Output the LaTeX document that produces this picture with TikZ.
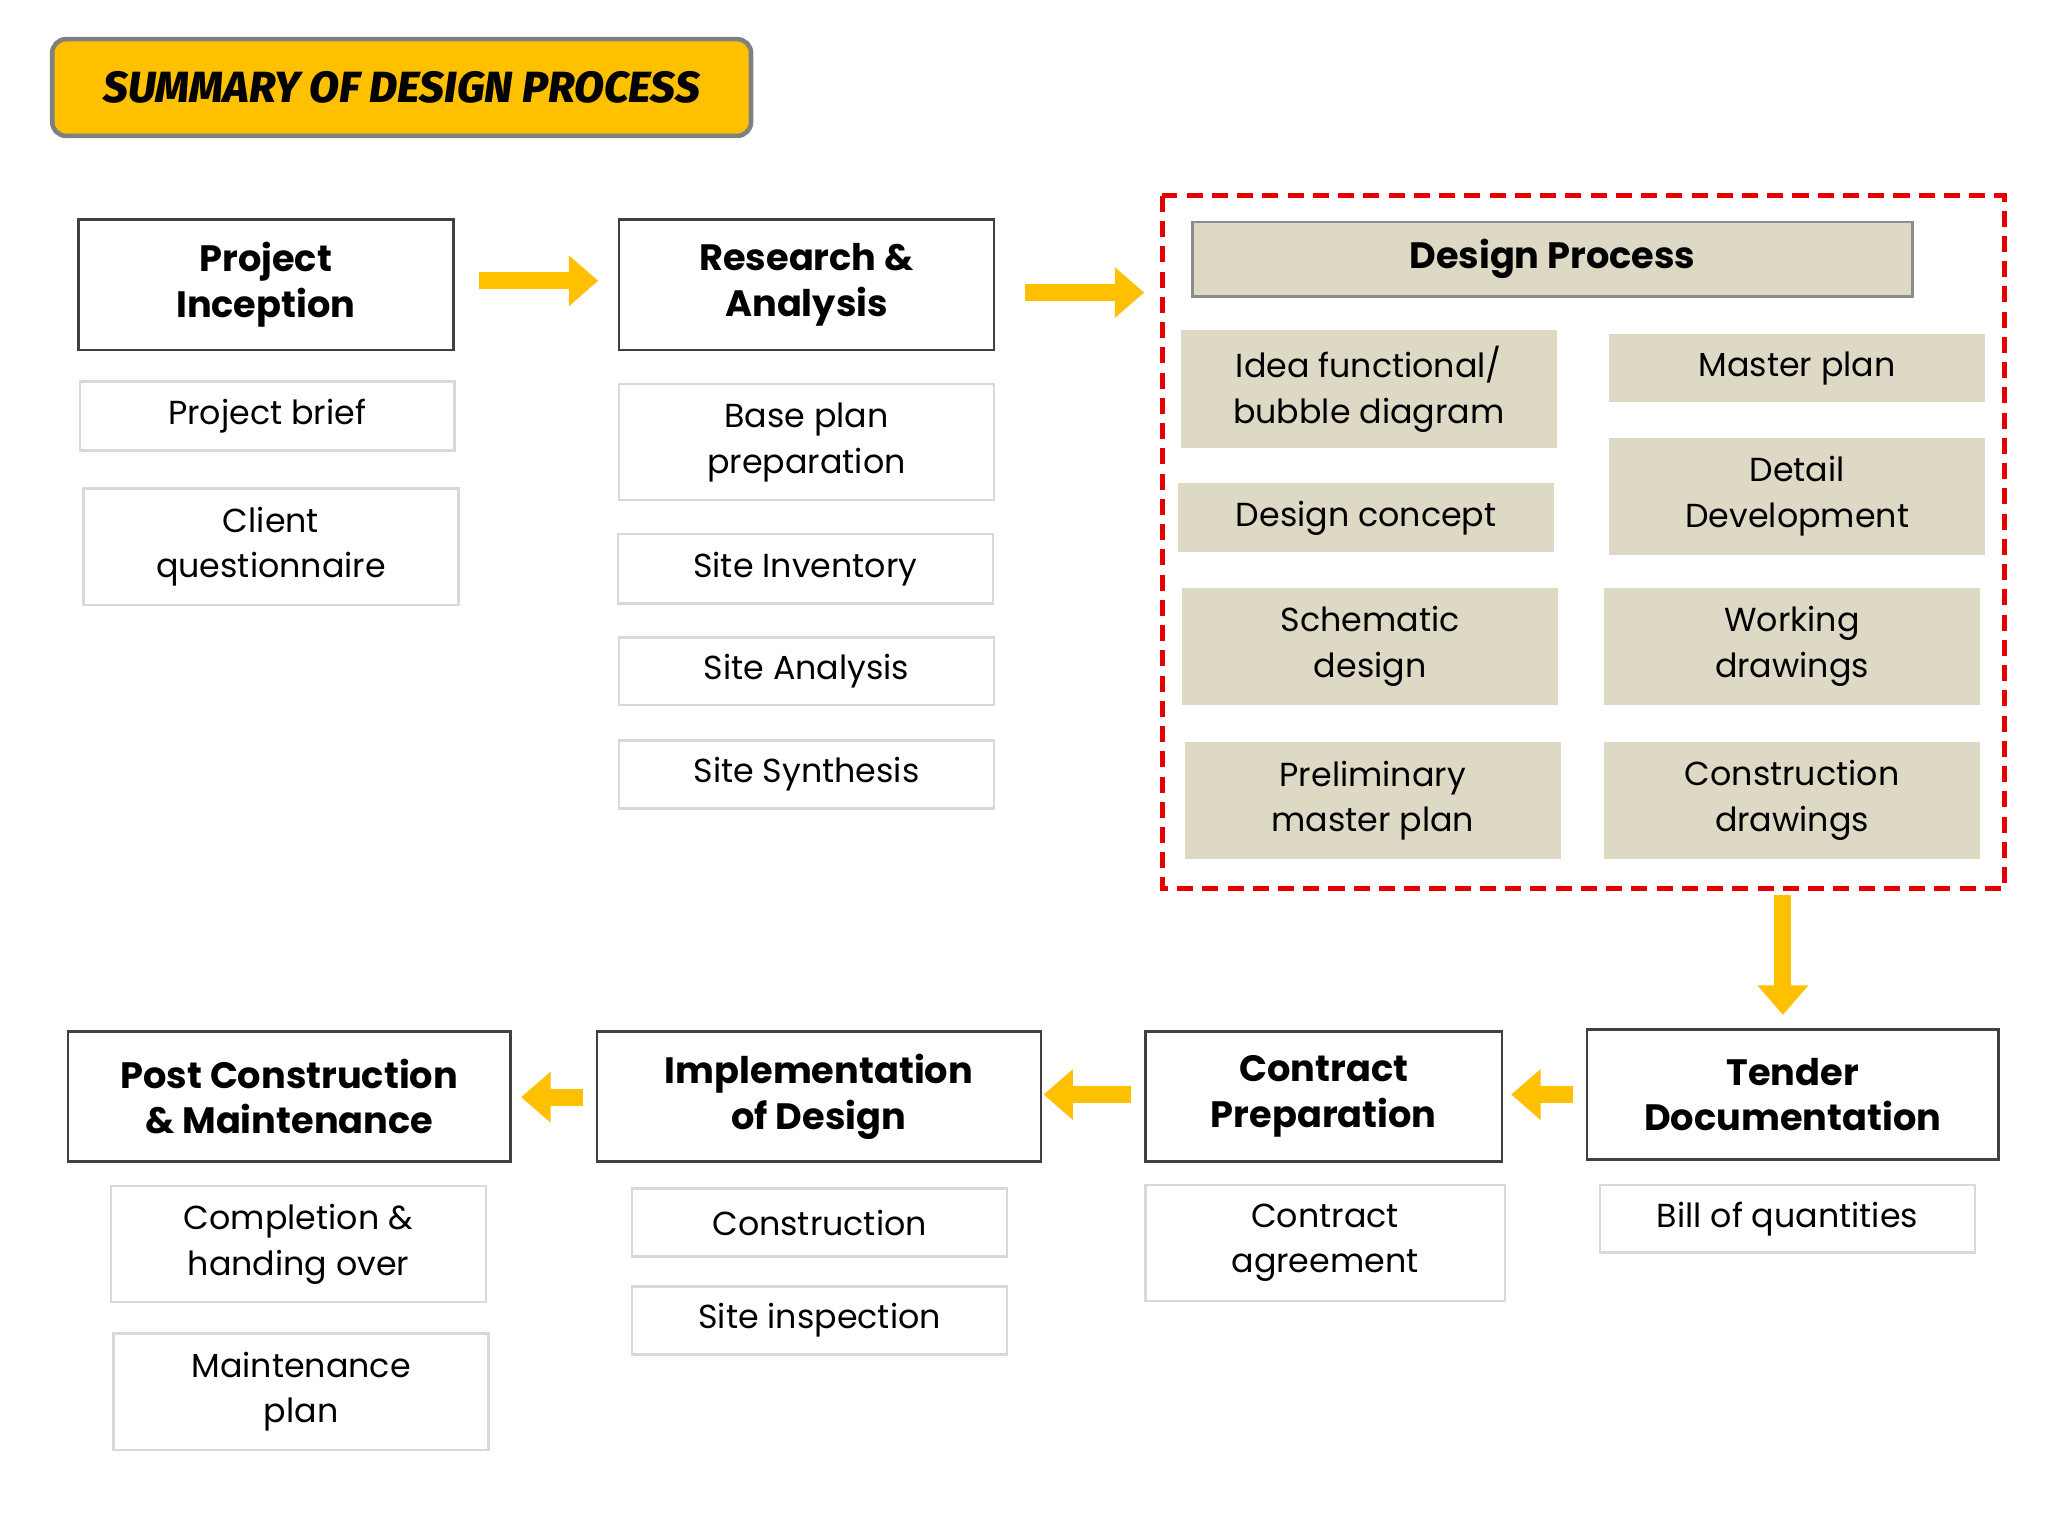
\documentclass[tikz,border=0pt]{standalone}
\usepackage{fontspec}
\setmainfont{Poppins}
\newfontfamily\tfont{Fira Sans ExtraBold}
\usetikzlibrary{arrows.meta}
\definecolor{gold}{HTML}{FFC000}
\definecolor{beige}{HTML}{DDD9C4}
\newcommand\bx[7]{\node[#6, minimum width={(#4-#2)*0.02cm}, minimum height={(#5-#3)*0.02cm}] (#1) at ({(#2+#4)/2},{(#3+#5)/2}) {#7};}
\begin{document}
\begin{tikzpicture}[x=0.02cm,y=-0.02cm,
  base/.style={inner sep=0pt, align=center},
  head/.style={base, draw=black!75, line width=1.2pt, font=\fontsize{16}{20}\selectfont\bfseries},
  item/.style={base, draw=black!15, line width=1pt, font=\fontsize{14.5}{20}\selectfont},
  ditem/.style={base, fill=beige, font=\fontsize{14.5}{20}\selectfont},
  arr/.style={gold, line width=0.26cm, -{Triangle[length=0.45cm,width=0.75cm]}}]
\useasboundingbox (0,0) rectangle (1568,1176);
\fill[white] (0,0) rectangle (1568,1176);
\node[base, draw=black!50, line width=2pt, fill=gold, rounded corners=6pt, minimum width={535*0.02cm}, minimum height={74*0.02cm}, font=\fontsize{19}{22}\selectfont\tfont\itshape] (title) at (307.5,67) {SUMMARY OF DESIGN PROCESS};
\bx{pi}{60}{168}{347}{268}{head}{Project\\Inception}
\bx{ra}{474}{168}{761}{268}{head}{Research \&\\Analysis}
\draw[red!90!black, line width=2.2pt, dash pattern=on 7pt off 4pt] (890,150) rectangle (1535,680);
\coordinate (dbox) at (1365,680);
\bx{dp}{913}{170}{1464}{227}{head,fill=beige,draw=black!45}{Design Process}
\bx{pb}{61}{292}{348}{345}{item}{Project brief}
\bx{cq}{64}{374}{351}{463}{item}{Client\\questionnaire}
\bx{bp}{474}{294}{761}{383}{item}{Base plan\\preparation}
\bx{si}{473}{409}{760}{462}{item}{Site Inventory}
\bx{sa}{474}{488}{761}{540}{item}{Site Analysis}
\bx{ss}{474}{567}{761}{619}{item}{Site Synthesis}
\bx{ib}{904}{253}{1192}{343}{ditem}{Idea functional/\\bubble diagram}
\bx{mp}{1232}{256}{1520}{308}{ditem}{Master plan}
\bx{dc}{902}{370}{1190}{423}{ditem}{Design concept}
\bx{dd}{1232}{335}{1520}{425}{ditem}{Detail\\Development}
\bx{sd}{905}{450}{1193}{540}{ditem}{Schematic\\design}
\bx{wd}{1228}{450}{1516}{540}{ditem}{Working\\drawings}
\bx{pm}{907}{568}{1195}{658}{ditem}{Preliminary\\master plan}
\bx{cd}{1228}{568}{1516}{658}{ditem}{Construction\\drawings}
\bx{pc}{52}{790}{391}{889}{head}{Post Construction\\\& Maintenance}
\bx{im}{457}{790}{797}{889}{head}{Implementation\\of Design}
\bx{cp}{877}{790}{1150}{889}{head}{Contract\\Preparation}
\bx{td}{1215}{788}{1530}{888}{head}{Tender\\Documentation}
\bx{ch}{85}{908}{372}{997}{item}{Completion \&\\handing over}
\bx{mn}{87}{1021}{374}{1110}{item}{Maintenance\\plan}
\bx{cn}{484}{910}{771}{962}{item}{Construction}
\bx{sp}{484}{985}{771}{1037}{item}{Site inspection}
\bx{ca}{877}{907}{1152}{996}{item}{Contract\\agreement}
\bx{bq}{1225}{907}{1512}{959}{item}{Bill of quantities}
\draw[arr] (367,215) -- (458,215);
\draw[arr] (785,224) -- (876,224);
\draw[arr] (dbox) ++(0,5) -- (1365,777);
\draw[arr] (1204,838) -- (1157,838);
\draw[arr] (866,838) -- (799,838);
\draw[arr] (446,840) -- (399,840);
\end{tikzpicture}
\end{document}
